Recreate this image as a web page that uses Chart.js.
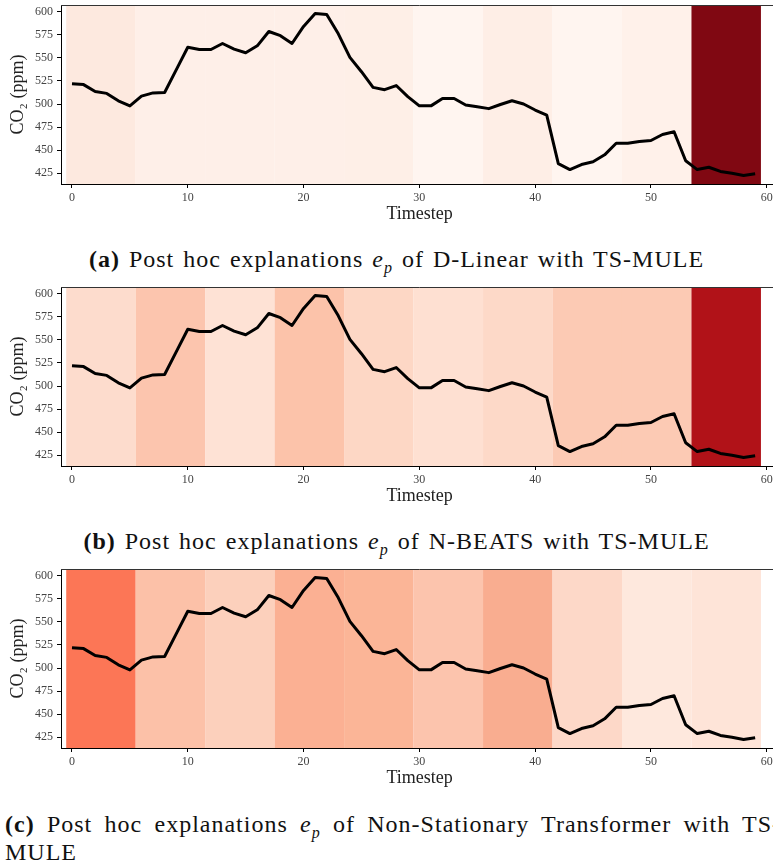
<!DOCTYPE html>
<html>
<head>
<meta charset="utf-8">
<script src="https://cdn.jsdelivr.net/npm/chart.js@4.4.0/dist/chart.umd.min.js"></script>
<style>
  html, body { margin: 0; padding: 0; background: #fff; }
  body { width: 773px; height: 867px; overflow: hidden; position: relative; font-family: 'Liberation Serif', serif; }
  .panel { position: absolute; left: 0; width: 790px; height: 225px; }
  .caption { position: absolute; color: #111; font-size: 24px; line-height: 28px; white-space: nowrap;
             letter-spacing: 1px; word-spacing: 2px; }
  .caption i sub { font-size: 16px; line-height: 0; }
  .centered { left: 0; width: 793px; text-align: center; }
</style>
</head>
<body>
<div class="panel" style="top:0px"><canvas id="chartA"></canvas></div>
<div class="caption centered" style="top:245px"><b>(a)</b> Post hoc explanations <i>e<sub>p</sub></i> of D-Linear with TS-MULE</div>

<div class="panel" style="top:282px"><canvas id="chartB"></canvas></div>
<div class="caption centered" style="top:527px"><b>(b)</b> Post hoc explanations <i>e<sub>p</sub></i> of N-BEATS with TS-MULE</div>

<div class="panel" style="top:564px"><canvas id="chartC"></canvas></div>
<div class="caption" style="top:810px; left:5px; width:776px; white-space:normal; line-height:28px;">
  <div style="text-align:justify; text-align-last:justify;"><b>(c)</b> Post hoc explanations <i>e<sub>p</sub></i> of Non-Stationary Transformer with TS-</div>
  <div>MULE</div>
</div>

<script>
document.addEventListener('DOMContentLoaded', () => {

  const timesteps = [0, 1, 2, 3, 4, 5, 6, 7, 8, 9, 10, 11, 12, 13, 14, 15, 16, 17, 18, 19,
    20, 21, 22, 23, 24, 25, 26, 27, 28, 29, 30, 31, 32, 33, 34, 35, 36, 37, 38, 39,
    40, 41, 42, 43, 44, 45, 46, 47, 48, 49, 50, 51, 52, 53, 54, 55, 56, 57, 58, 59];

  const co2 = [522, 521, 513.5, 511.5, 503.5, 498, 508.5, 512, 512.5, 537,
    561.5, 559, 559, 565.5, 559.5, 555.5, 563, 578.5, 574, 565.5,
    584, 598, 597, 576, 550.5, 535, 518, 515.5, 520, 508,
    498, 498, 506, 506, 499, 497, 495, 499.5, 503.5, 500,
    493.5, 488, 435.5, 429, 434.5, 437.5, 445, 457.5, 457.5, 459.5,
    460.5, 467, 470, 438.5, 429, 431.5, 427, 425, 422.5, 424.5];

  // explanation segments: 10 windows of 6 timesteps
  const bandEdges = [-0.5, 5.5, 11.5, 17.5, 23.5, 29.5, 35.5, 41.5, 47.5, 53.5, 59.5];

  const colorsDLinear = ['#fde9df', '#feefe8', '#feefe8', '#feefe8', '#feefe7',
    '#fff5f0', '#feeee6', '#fff5f0', '#fff1ea', '#800812'];
  const colorsNBeats = ['#fddccd', '#fcc5ae', '#fee2d5', '#fcc3aa', '#fdd7c5',
    '#fee0d2', '#fdd9c8', '#fccab4', '#fccab4', '#b11218'];
  const colorsNSTransformer = ['#fc7656', '#fcc1a8', '#fcd0bc', '#fbb093', '#fbb597',
    '#fcc4ad', '#f9ad90', '#fdd8c8', '#fee8dd', '#fee4d8'];

  const xTicks = [0, 10, 20, 30, 40, 50, 60];
  const yTicks = [425, 450, 475, 500, 525, 550, 575, 600];

  const bandsPlugin = {
    id: 'bands',
    beforeDraw(chart, args, opts) {
      const { ctx, chartArea } = chart;
      const x = chart.scales.x;
      ctx.save();
      opts.colors.forEach((c, i) => {
        const x0 = x.getPixelForValue(bandEdges[i]);
        const x1 = x.getPixelForValue(bandEdges[i + 1]);
        ctx.fillStyle = c;
        ctx.fillRect(x0, chartArea.top, x1 - x0, chartArea.bottom - chartArea.top);
      });
      ctx.restore();
    },
    afterDraw(chart) {
      // top spine
      const { ctx, chartArea } = chart;
      ctx.save();
      ctx.strokeStyle = '#333';
      ctx.lineWidth = 1;
      ctx.beginPath();
      ctx.moveTo(chartArea.left, chartArea.top + 0.5);
      ctx.lineTo(chartArea.right, chartArea.top + 0.5);
      ctx.stroke();
      ctx.restore();
    }
  };

  const tickFont = { family: 'Liberation Serif', size: 12 };
  const titleFont = { family: 'Liberation Serif', size: 18 };

  function makeChart(id, colors) {
    const ctx = document.getElementById(id).getContext('2d');
    return new Chart(ctx, {
      type: 'line',
      data: {
        labels: timesteps,
        datasets: [{
          data: timesteps.map((t, i) => ({ x: t, y: co2[i] })),
          borderColor: '#000',
          borderWidth: 3,
          pointRadius: 0,
          tension: 0,
          fill: false,
          borderJoinStyle: 'round'
        }]
      },
      options: {
        responsive: true,
        maintainAspectRatio: false,
        animation: false,
        layout: { padding: { top: 5, right: 11.7, left: 0, bottom: 0 } },
        plugins: {
          legend: { display: false },
          tooltip: { enabled: false },
          bands: { colors: colors }
        },
        scales: {
          x: {
            type: 'linear',
            min: -0.95,
            max: 61,
            afterBuildTicks: (scale) => { scale.ticks = xTicks.map(v => ({ value: v })); },
            afterFit: (scale) => { scale.height = 41; scale.paddingLeft = 0; scale.paddingRight = 0; },
            ticks: { font: tickFont, color: '#444', padding: 3, maxRotation: 0 },
            grid: { drawOnChartArea: false, drawTicks: true, tickLength: 4, color: '#000' },
            border: { display: true, color: '#000', width: 1 },
            title: { display: true, text: 'Timestep', font: titleFont, color: '#222', padding: { top: 0, bottom: 0 } }
          },
          y: {
            min: 413.4,
            max: 607.2,
            afterBuildTicks: (scale) => { scale.ticks = yTicks.map(v => ({ value: v })); },
            afterFit: (scale) => { scale.width = 61; scale.paddingTop = 0; scale.paddingBottom = 0; },
            ticks: { font: tickFont, color: '#444', padding: 4 },
            grid: { drawOnChartArea: false, drawTicks: true, tickLength: 4, color: '#000' },
            border: { display: true, color: '#000', width: 1 },
            title: { display: true, text: 'CO₂ (ppm)', font: titleFont, color: '#222', padding: { top: 7, bottom: 0 } }
          }
        }
      },
      plugins: [bandsPlugin]
    });
  }

  makeChart('chartA', colorsDLinear);
  makeChart('chartB', colorsNBeats);
  makeChart('chartC', colorsNSTransformer);
});
</script>
</body>
</html>
